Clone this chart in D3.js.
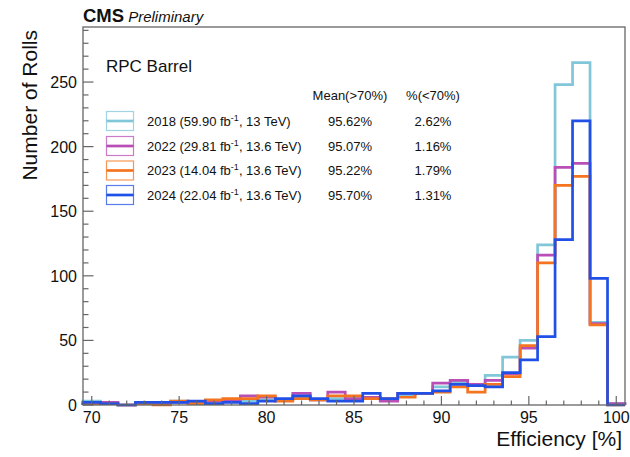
<!DOCTYPE html>
<html>
<head>
<meta charset="utf-8">
<script src="https://cdn.jsdelivr.net/npm/d3@7"></script>
<style>
  body { margin: 0; background: #fff; }
  svg text { font-family: "Liberation Sans", Arial, Helvetica, sans-serif; fill: #111; }
</style>
</head>
<body>
<div id="chart"></div>
<script>
const margin = {top: 27, right: 5, bottom: 52, left: 83},
    width = 630 - margin.left - margin.right,
    height = 457 - margin.top - margin.bottom;

// bin centres, 1% wide bins
const bins = d3.range(70, 101);

const eff2018 = [3, 1, 0, 1, 1, 3, 2, 3, 3, 3, 4, 4, 6, 4, 5, 5, 6, 4, 8, 9, 14, 18, 16, 23, 37, 50, 124, 248, 265, 64, 1];
const eff2022 = [1, 2, 0, 1, 2, 2, 2, 3, 4, 7, 6, 4, 9, 4, 10, 5, 6, 3, 9, 9, 17, 19, 16, 19, 24, 44, 116, 184, 187, 63, 1];
const eff2023 = [1, 1, 0, 1, 0, 3, 1, 4, 5, 5, 7, 3, 5, 4, 7, 7, 5, 5, 6, 9, 10, 14, 10, 16, 22, 46, 110, 170, 177, 62, 0];
const eff2024 = [2, 1, 0, 2, 2, 2, 3, 1, 2, 1, 3, 5, 7, 5, 3, 3, 9, 5, 9, 9, 11, 16, 15, 14, 25, 35, 53, 128, 220, 98, 0];

const seriesNames = ["2018", "2022", "2023", "2024"];
const lumi = ["59.90", "29.81", "14.04", "22.04"];
const energy = ["13 TeV", "13.6 TeV", "13.6 TeV", "13.6 TeV"];
const meanAbove = ["95.62%", "95.07%", "95.22%", "95.70%"];
const fracBelow = ["2.62%", "1.16%", "1.79%", "1.31%"];
const colors = ["#82c6d9", "#b94fb6", "#f4741f", "#2050e6"];

const xTicks = [70, 75, 80, 85, 90, 95, 100];
const yTicks = [0, 50, 100, 150, 200, 250];

const series = [eff2018, eff2022, eff2023, eff2024];

const svg = d3.select("#chart")
    .append("svg")
    .attr("width", width + margin.left + margin.right)
    .attr("height", height + margin.top + margin.bottom);

const g = svg.append("g")
    .attr("transform", `translate(${margin.left}, ${margin.top})`);

const x = d3.scaleLinear()
    .domain([69.5, 100.5])
    .range([0, width]);

const y = d3.scaleLinear()
    .domain([0, 292.6])
    .range([height, 0]);

// step outline like a ROOT histogram
function histPoints(vals) {
    let pts = [[bins[0] - 0.5, 0]];
    vals.forEach(function(v, i) {
        pts.push([bins[i] - 0.5, v]);
        pts.push([bins[i] + 0.5, v]);
    });
    pts.push([bins[bins.length - 1] + 0.5, 0]);
    return pts;
}

const line = d3.line()
    .x(d => x(d[0]))
    .y(d => y(d[1]));

g.selectAll(".hist")
    .data(series)
    .enter().append("path")
    .attr("class", "hist")
    .attr("d", d => line(histPoints(d)))
    .style("fill", "none")
    .style("stroke", (d, i) => colors[i])
    .style("stroke-width", 2.7)
    .style("stroke-linejoin", "miter");

// frame
const axisColor = "#666";
g.append("rect")
    .attr("x", 0).attr("y", 0)
    .attr("width", width).attr("height", height)
    .style("fill", "none")
    .style("stroke", axisColor)
    .style("stroke-width", 1.3);

// x ticks (inward)
g.selectAll(".xminor")
    .data(bins)
    .enter().append("line")
    .attr("x1", d => x(d)).attr("x2", d => x(d))
    .attr("y1", height).attr("y2", d => height - (xTicks.includes(d) ? 9 : 4.5))
    .style("stroke", axisColor)
    .style("stroke-width", 1.2);

g.selectAll(".xlab")
    .data(xTicks)
    .enter().append("text")
    .attr("x", d => x(d))
    .attr("y", height + 18)
    .attr("text-anchor", "middle")
    .style("font-size", "16px")
    .text(d => d);

// y ticks (inward)
const yMinor = d3.range(0, 291, 10);
g.selectAll(".yminor")
    .data(yMinor)
    .enter().append("line")
    .attr("x1", 0).attr("x2", d => (d % 50 === 0 ? 10.5 : 5.5))
    .attr("y1", d => y(d)).attr("y2", d => y(d))
    .style("stroke", axisColor)
    .style("stroke-width", 1.2);

g.selectAll(".ylab")
    .data(yTicks)
    .enter().append("text")
    .attr("x", -6)
    .attr("y", d => y(d) + 6)
    .attr("text-anchor", "end")
    .style("font-size", "16px")
    .text(d => d);

// axis titles
svg.append("text")
    .attr("transform", "translate(37, 30) rotate(-90)")
    .attr("text-anchor", "end")
    .style("font-size", "21px")
    .text("Number of Rolls");

svg.append("text")
    .attr("x", 622)
    .attr("y", 446)
    .attr("text-anchor", "end")
    .style("font-size", "21px")
    .text("Efficiency [%]");

// CMS label
const head = svg.append("text")
    .attr("x", 83)
    .attr("y", 22);
head.append("tspan")
    .style("font-weight", "bold")
    .style("font-size", "18.5px")
    .text("CMS");
head.append("tspan")
    .attr("dx", 4)
    .style("font-style", "italic")
    .style("font-size", "15px")
    .text("Preliminary");

svg.append("text")
    .attr("x", 106)
    .attr("y", 72)
    .style("font-size", "17px")
    .text("RPC Barrel");

// legend
svg.append("text")
    .attr("x", 350).attr("y", 100)
    .attr("text-anchor", "middle")
    .style("font-size", "13px")
    .text("Mean(>70%)");
svg.append("text")
    .attr("x", 433).attr("y", 100)
    .attr("text-anchor", "middle")
    .style("font-size", "13px")
    .text("%(<70%)");

const rowY = [121, 146, 170.5, 195];
const leg = svg.selectAll(".leg")
    .data(seriesNames)
    .enter().append("g")
    .attr("class", "leg")
    .attr("transform", (d, i) => `translate(0, ${rowY[i]})`);

leg.append("rect")
    .attr("x", 106.5).attr("y", -9.5)
    .attr("width", 27).attr("height", 19)
    .style("fill", "none")
    .style("stroke", (d, i) => colors[i])
    .style("stroke-opacity", 0.75)
    .style("stroke-width", 1.2);

leg.append("line")
    .attr("x1", 106.5).attr("x2", 133.5)
    .attr("y1", 0).attr("y2", 0)
    .style("stroke", (d, i) => colors[i])
    .style("stroke-width", 2.7);

const lt = leg.append("text")
    .attr("x", 147).attr("y", 4.5)
    .style("font-size", "13px");
lt.append("tspan").text((d, i) => `${d} (${lumi[i]} fb`);
lt.append("tspan")
    .attr("dy", -5)
    .style("font-size", "9px")
    .text("-1");
lt.append("tspan")
    .attr("dy", 5)
    .text((d, i) => `, ${energy[i]})`);

leg.append("text")
    .attr("x", 350).attr("y", 4.5)
    .attr("text-anchor", "middle")
    .style("font-size", "13px")
    .text((d, i) => meanAbove[i]);

leg.append("text")
    .attr("x", 433).attr("y", 4.5)
    .attr("text-anchor", "middle")
    .style("font-size", "13px")
    .text((d, i) => fracBelow[i]);
</script>
</body>
</html>
